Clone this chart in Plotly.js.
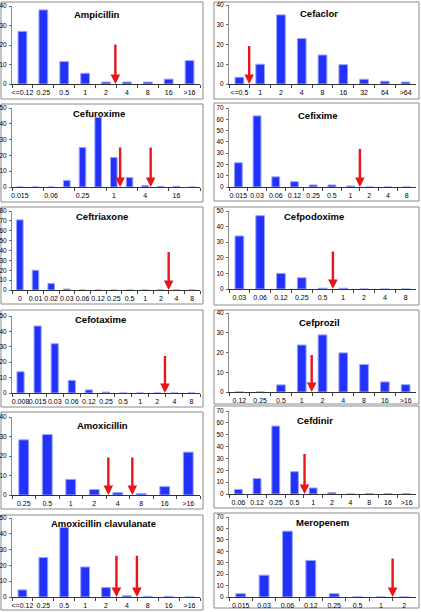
<!DOCTYPE html>
<html><head><meta charset="utf-8">
<script src="https://cdn.plot.ly/plotly-3.0.1.min.js"></script>
<style>html,body{margin:0;padding:0;background:#fff;} #chart{width:421px;height:612px;}</style>
</head><body><div id="chart"></div>
<script>
// ---------- DATA (percent of isolates per MIC category) ----------
const drugNames = ["Ampicillin","Cefuroxime","Ceftriaxone","Cefotaxime","Amoxicillin","Amoxicillin clavulanate",
                   "Cefaclor","Cefixime","Cefpodoxime","Cefprozil","Cefdinir","Meropenem"];

const ampicillinMic = ["<=0.12","0.25","0.5","1","2","4","8","16",">16"];
const ampicillinPct = [27,38,11.5,5.5,1,1,1,2.5,12];
const ampicillinArrowPos = [4.45];
const ampicillinArrowTop = [21];

const cefuroximeMic = ["0.015","0.03","0.06","0.12","0.25","0.5","1","2","4","8","16","32"];
const cefuroximePct = [0,0,0,4.2,25,44,18.7,6,1,0.4,0.4,0];
const cefuroximeArrowPos = [6.4,8.35];
const cefuroximeArrowTop = [26,26];

const ceftriaxoneMic = ["0","0.01","0.02","0.03","0.06","0.12","0.25","0.5","1","2","4","8"];
const ceftriaxonePct = [71,20,6.7,1,0,0,0,0,0,0,0,0];
const ceftriaxoneArrowPos = [9.5];
const ceftriaxoneArrowTop = [40];

const cefotaximeMic = ["0.008","0.015","0.03","0.06","0.12","0.25","0.5","1","2","4","8"];
const cefotaximePct = [13.8,43.5,32,8.2,2,0.6,0,0,0,0,0];
const cefotaximeArrowPos = [8.45];
const cefotaximeArrowTop = [25];

const amoxicillinMic = ["0.25","0.5","1","2","4","8","16",">16"];
const amoxicillinPct = [28.3,31,8,2.8,1.2,0.7,4.3,22];
const amoxicillinArrowPos = [3.6,4.62];
const amoxicillinArrowTop = [20,20];

const amoxClavMic = ["<=0.12","0.25","0.5","1","2","4","8","16",">16"];
const amoxClavPct = [4.5,25,44,19,6,0.8,0.4,0.4,0];
const amoxClavArrowPos = [4.5,5.48];
const amoxClavArrowTop = [27,27];

const cefaclorMic = ["<=0.5","1","2","4","8","16","32","64",">64"];
const cefaclorPct = [3.4,10,35,23,14.7,9.8,2.4,1.4,1];
const cefaclorArrowPos = [0.47];
const cefaclorArrowTop = [20];

const cefiximeMic = ["0.015","0.03","0.06","0.12","0.25","0.5","1","2","4","8"];
const cefiximePct = [21.5,63,9,4.7,1.8,1.8,0.9,0,0,0];
const cefiximeArrowPos = [6.5];
const cefiximeArrowTop = [35];

const cefpodoximeMic = ["0.03","0.06","0.12","0.25","0.5","1","2","4","8"];
const cefpodoximePct = [34,47,10,7.2,0.5,0.5,0,0,0];
const cefpodoximeArrowPos = [4.5];
const cefpodoximeArrowTop = [25];

const cefprozilMic = ["0.12","0.25","0.5","1","2","4","8","16",">16"];
const cefprozilPct = [0,0,3.6,23.8,28.9,19.8,13.9,5.1,3.7];
const cefprozilArrowPos = [3.48];
const cefprozilArrowTop = [19.5];

const cefdinirMic = ["0.06","0.12","0.25","0.5","1","2","4","8","16",">16"];
const cefdinirPct = [3.9,13.1,57.3,18.8,5.1,1.2,0,0.3,0.3,0.3];
const cefdinirArrowPos = [3.54];
const cefdinirArrowTop = [35];

const meropenemMic = ["0.015","0.03","0.06","0.12","0.25","0.5","1","2"];
const meropenemPct = [2.9,19.1,57.6,32,2.9,0,0,0];
const meropenemArrowPos = [6.5];
const meropenemArrowTop = [35];

const yMax = [40,50,80,50,40,50, 40,70,50,40,70,70];
const labelEvery = [1,2,1,1,1,1, 1,1,1,1,1,1];

const micLists = [ampicillinMic,cefuroximeMic,ceftriaxoneMic,cefotaximeMic,amoxicillinMic,amoxClavMic,
                  cefaclorMic,cefiximeMic,cefpodoximeMic,cefprozilMic,cefdinirMic,meropenemMic];
const pctLists = [ampicillinPct,cefuroximePct,ceftriaxonePct,cefotaximePct,amoxicillinPct,amoxClavPct,
                  cefaclorPct,cefiximePct,cefpodoximePct,cefprozilPct,cefdinirPct,meropenemPct];
const arrowPosLists = [ampicillinArrowPos,cefuroximeArrowPos,ceftriaxoneArrowPos,cefotaximeArrowPos,amoxicillinArrowPos,amoxClavArrowPos,
                       cefaclorArrowPos,cefiximeArrowPos,cefpodoximeArrowPos,cefprozilArrowPos,cefdinirArrowPos,meropenemArrowPos];
const arrowTopLists = [ampicillinArrowTop,cefuroximeArrowTop,ceftriaxoneArrowTop,cefotaximeArrowTop,amoxicillinArrowTop,amoxClavArrowTop,
                       cefaclorArrowTop,cefiximeArrowTop,cefpodoximeArrowTop,cefprozilArrowTop,cefdinirArrowTop,meropenemArrowTop];

// ---------- LAYOUT GEOMETRY (pixels) ----------
const W = 421, H = 612;
// [boxLeft, boxRight, plotLeft, plotRight, boxTop, boxBottom, plotTop, plotBottom, titleX, titleY]
const geom = [
  [1,203,12,200,   2, 99,   6, 84,   97, 14],
  [1,203,12,200, 104,202, 108,187,   99,113],
  [1,203,12,200, 207,304, 211,290,  102,216],
  [1,203,12,200, 310,407, 316,393,  100,319],
  [1,203,12,200, 412,509, 417,495,  102,425],
  [1,203,12,200, 515,610, 518,597,  103,523],
  [214,419,229,416,   2, 99,   5, 84, 319, 13],
  [214,419,229,416, 103,201, 108,187, 318,115],
  [214,419,229,416, 207,305, 211,289, 314,216],
  [214,419,229,416, 310,404, 313,392, 319,322],
  [214,419,229,416, 406,508, 411,494, 315,420],
  [214,419,229,416, 513,608, 517,597, 322,522]
];

const FONT = "Liberation Sans, Arial, sans-serif";
const traces = [], shapes = [], annotations = [];
const layout = {
  width: W, height: H,
  margin: {l:0, r:0, t:0, b:0},
  paper_bgcolor: "#ffffff", plot_bgcolor: "#ffffff",
  showlegend: false, bargap: 0.58,
  font: {family: FONT, size: 7, color: "#000"}
};

function gridVals(max) {
  const v = [];
  for (let t = 10; t < max; t += 10) v.push(t);
  return v;
}

for (let i = 0; i < 12; i++) {
  const g = geom[i];
  const sfx = i === 0 ? "" : String(i + 1);
  const gsfx = String(i + 13);
  const xa = "x" + sfx, ya = "y" + sfx;
  const n = micLists[i].length;
  const yDomain = [1 - g[7] / H, 1 - g[6] / H];
  traces.push({
    type: "bar", x: micLists[i], y: pctLists[i], xaxis: xa, yaxis: ya,
    marker: {color: "rgb(35,50,250)", line: {color: "rgb(150,165,255)", width: 1}},
    hoverinfo: "x+y"
  });
  layout["xaxis" + sfx] = {
    type: "category", domain: [g[2] / W, g[3] / W], anchor: ya,
    range: [-0.5, n - 0.5], fixedrange: true,
    tickmode: "linear", tick0: 0, dtick: labelEvery[i],
    tickson: "boundaries", ticks: "outside", ticklen: 3, tickcolor: "#444", tickwidth: 1,
    ticklabelstandoff: 2,
    showline: true, linecolor: "#333", linewidth: 1, showgrid: false, zeroline: false,
    tickfont: {family: FONT, size: 7, color: "#000"}, tickangle: 0
  };
  layout["yaxis" + sfx] = {
    domain: yDomain, anchor: xa,
    range: [0, yMax[i]], dtick: 10, tick0: 0, fixedrange: true,
    ticks: "outside", ticklen: 2, tickcolor: "#666", tickwidth: 1,
    ticklabelstandoff: 1,
    showline: true, linecolor: "#888", linewidth: 1,
    showgrid: false, zeroline: false,
    tickfont: {family: FONT, size: 6.5, color: "#000"}
  };
  // gridline-only overlay axis (no gridline at the top of the range)
  layout["yaxis" + gsfx] = {
    overlaying: ya, anchor: xa, range: [0, yMax[i]], fixedrange: true,
    tickmode: "array", tickvals: gridVals(yMax[i]),
    showticklabels: false, ticks: "", showline: false, zeroline: false,
    showgrid: true, gridcolor: "#8f8f8f", gridwidth: 1
  };
  shapes.push({
    type: "rect", xref: "paper", yref: "paper",
    x0: g[0] / W, x1: g[1] / W, y0: 1 - g[5] / H, y1: 1 - g[4] / H,
    line: {color: "#8a8a8a", width: 1}, fillcolor: "rgba(0,0,0,0)", layer: "below"
  });
  annotations.push({
    xref: "paper", yref: "paper", x: g[8] / W, y: 1 - g[9] / H,
    xanchor: "center", yanchor: "middle", showarrow: false,
    text: "<b>" + drugNames[i] + "</b>", font: {family: FONT, size: 9.5, color: "#000"}
  });
  arrowPosLists[i].forEach((p, k) => {
    annotations.push({
      xref: xa, yref: ya, axref: xa, ayref: ya,
      x: p, y: 0, ax: p, ay: arrowTopLists[i][k],
      text: "", showarrow: true, arrowhead: 2, arrowsize: 0.8, arrowwidth: 2.4,
      arrowcolor: "#e8161b", standoff: 0, startstandoff: 0
    });
  });
}
layout.shapes = shapes;
layout.annotations = annotations;

Plotly.newPlot("chart", traces, layout, {displayModeBar: false, staticPlot: true});
</script>
</body></html>
